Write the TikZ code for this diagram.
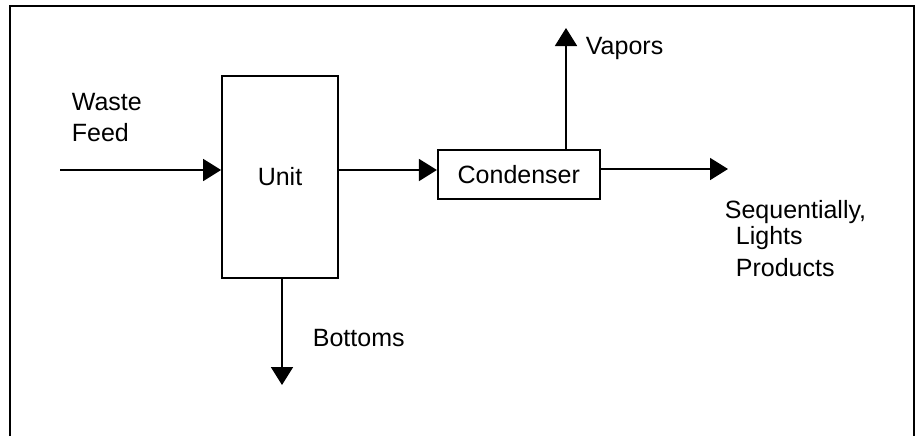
\documentclass[tikz,border=0pt]{standalone}
\usepackage{fontspec}
\setmainfont{Liberation Sans}
\usepackage{tikz}
\usetikzlibrary{positioning,arrows.meta}

\begin{document}
\begin{tikzpicture}[x=0.5pt, y=-0.5pt, line width=0.9pt, node distance=49pt, every node/.style={font=\fontsize{12.5}{15.5}\selectfont}, box/.style={draw, line width=0.9pt, inner sep=0pt}, lbl/.style={inner sep=0pt, align=left}, flow/.style={-{Triangle[length=9pt,width=11pt]}}]
\useasboundingbox (0,0) rectangle (917,436);
\draw (10,436) |- (914,6) -- (914,436);
\node[box, minimum width=58pt, minimum height=101pt] (unit) at (280,177) {Unit};
\node[box, right=49pt of unit, yshift=1.25pt, minimum width=81pt, minimum height=24.5pt] (cond) {Condenser};
\coordinate (feed) at (60,170); \coordinate (lights) at (728,169); \coordinate (vap) at (566,28); \coordinate (bot) at (282,385);
\draw[flow] (feed) -- (feed -| unit.west); \draw[flow] (unit.east |- feed) -- (cond.west |- feed); \draw[flow] (cond.east |- lights) -- (lights); \draw[flow] (cond.north -| vap) -- (vap); \draw[flow] (unit.south -| bot) -- (bot);
\node[lbl, anchor=north west] (wastelbl) at (71,92) {Waste\\Feed};
\node[lbl, anchor=west] (vaplbl) at (585,48) {Vapors};
\node[lbl, anchor=west] (botlbl) at (312,338) {Bottoms};
\node[lbl, anchor=north west] (prodlbl) at (724,199) {Sequentially,\\[-2.5pt]\hspace*{5.5pt}Lights\\[0.5pt]\hspace*{5.5pt}Products};
\end{tikzpicture}
\end{document}
